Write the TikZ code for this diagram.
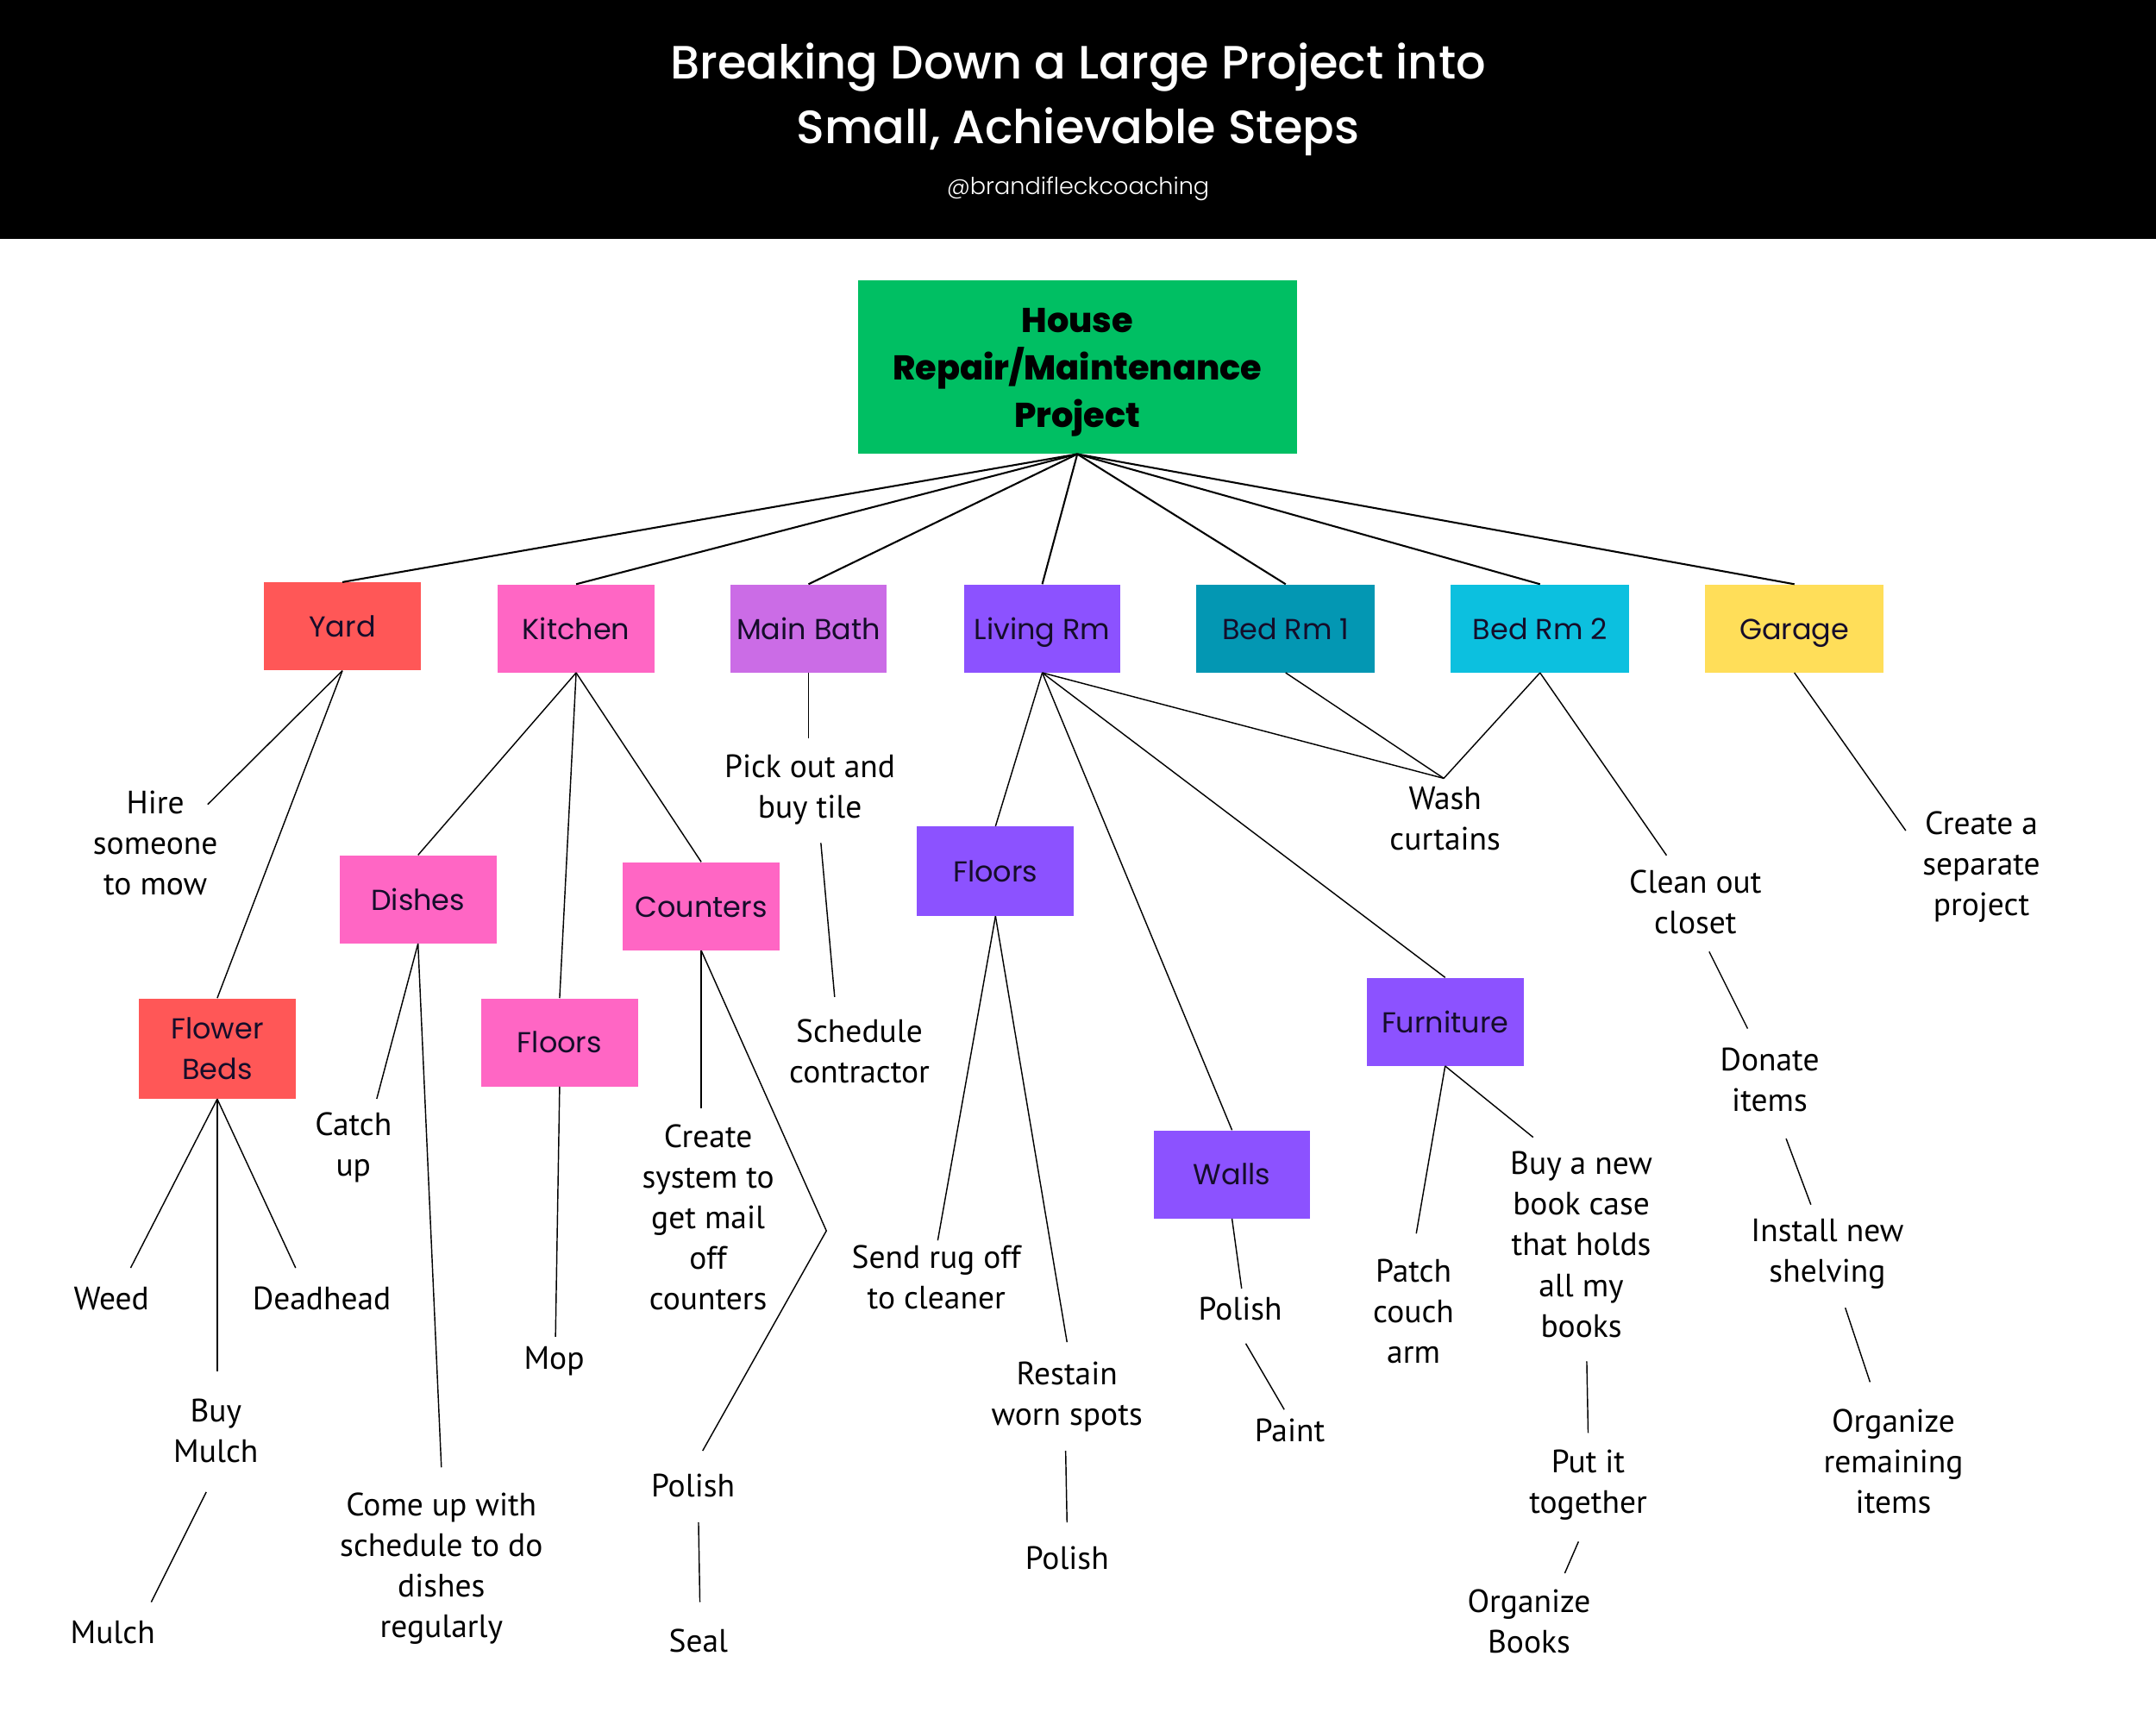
\documentclass[tikz,border=0pt]{standalone}
\usepackage{fontspec}
\setmainfont{PT Sans}
\newfontfamily\pop{Poppins}
\newfontfamily\popm{Poppins Medium}
\newfontfamily\popl{Poppins Light}
\newfontfamily\popxb{Poppins ExtraBold}
\definecolor{cgreen}{HTML}{00BF63}
\definecolor{cred}{HTML}{FF5757}
\definecolor{cpink}{HTML}{FF66C4}
\definecolor{corchid}{HTML}{CB6CE6}
\definecolor{cviolet}{HTML}{8C52FF}
\definecolor{cteal}{HTML}{0397B3}
\definecolor{ccyan}{HTML}{0CC0DF}
\definecolor{cyellow}{HTML}{FFDE59}
\definecolor{boxtxt}{HTML}{150D2A}
\tikzset{
  boxbase/.style={rectangle, inner sep=0pt, minimum width=114pt, minimum height=64pt,
    font=\pop\fontsize{21}{29}\selectfont, text=boxtxt, align=center},
  box/.style={boxbase, text height=16pt, text depth=0.5pt},
  lbl/.style={inner sep=0pt, align=center, font=\fontsize{23.5}{29.5}\selectfont},
  link/.style={line width=0.9pt},
  toplink/.style={line width=1.3pt},
}
\begin{document}
\begin{tikzpicture}[x=1pt, y=-1pt]
\useasboundingbox (0,0) rectangle (1568,1254);
\fill[white] (0,0) rectangle (1568,1254);
\fill[black] (0,0) rectangle (1568,174);
\node[text=white, align=center, inner sep=0pt, font=\popm\fontsize{34}{47}\selectfont] (title) at (784,72) {Breaking Down a Large Project into\\Small, Achievable Steps};
\node[text=white, inner sep=0pt, font=\popl\fontsize{17}{20}\selectfont] (handle) at (784,137.5) {@brandifleckcoaching};

% main box
\node[boxbase, fill=cgreen, minimum width=319pt, minimum height=126pt] (main) at (783.5,267) {};
\node[text=black, align=center, inner sep=0pt, font=\popxb\fontsize{25}{34.5}\selectfont] (maintext) at (783.5,271) {House\\Repair/Maintenance\\Project};

% level 1
\node[box, fill=cred] (yard) at (249,455.5) {Yard};
\node[box, fill=cpink] (kitchen) at (419,457) {Kitchen};
\node[box, fill=corchid] (bath) at (588,457) {Main Bath};
\node[box, fill=cviolet] (living) at (758,457) {Living Rm};
\node[box, fill=cteal, minimum width=130pt] (bed1) at (935,457) {Bed Rm 1};
\node[box, fill=ccyan, minimum width=130pt] (bed2) at (1120,457) {Bed Rm 2};
\node[box, fill=cyellow, minimum width=130pt] (garage) at (1305,457) {Garage};

% level 2 boxes
\node[boxbase, fill=cred, minimum height=73pt] (flower) at (158,762.5) {Flower\\Beds};
\node[box, fill=cpink] (dishes) at (304,654) {Dishes};
\node[box, fill=cpink] (kfloors) at (407,758) {Floors};
\node[box, fill=cpink] (counters) at (510,659) {Counters};
\node[box, fill=cviolet, minimum height=65pt] (lfloors) at (724,633.5) {Floors};
\node[box, fill=cviolet] (walls) at (896,854) {Walls};
\node[box, fill=cviolet] (furniture) at (1051,743) {Furniture};

% labels
\node[lbl] (hire) at (113,613) {Hire\\someone\\to mow};
\node[lbl] (weed) at (81,944) {Weed};
\node[lbl] (deadhead) at (234,944) {Deadhead};
\node[lbl] (buymulch) at (157,1040.5) {Buy\\Mulch};
\node[lbl] (mulch) at (82,1187) {Mulch};
\node[lbl] (catchup) at (257,834.5) {Catch\\up};
\node[lbl] (comeup) at (321,1140.5) {Come up with\\schedule to do\\dishes\\regularly};
\node[lbl] (mop) at (403,990) {Mop};
\node[lbl] (createsys) at (515,885) {Create\\system to\\get mail\\off\\counters};
\node[lbl] (polishA) at (504,1080) {Polish};
\node[lbl] (seal) at (508,1193) {Seal};
\node[lbl] (pickout) at (589,574) {Pick out and\\buy tile};
\node[lbl] (schedule) at (625,764.5) {Schedule\\contractor};
\node[lbl] (sendrug) at (681,929) {Send rug off\\to cleaner};
\node[lbl] (restain) at (776,1016) {Restain\\worn spots};
\node[lbl] (polishB) at (776,1133) {Polish};
\node[lbl] (wash) at (1051,595) {Wash\\curtains};
\node[lbl] (polishC) at (902,952) {Polish};
\node[lbl] (paint) at (938,1040) {Paint};
\node[lbl] (patch) at (1028,953.5) {Patch\\couch\\arm};
\node[lbl] (buynew) at (1150,905) {Buy a new\\book case\\that holds\\all my\\books};
\node[lbl] (putit) at (1155,1080) {Put it\\together};
\node[lbl] (orgbooks) at (1112,1179) {Organize\\Books};
\node[lbl] (cleanout) at (1233,656) {Clean out\\closet};
\node[lbl] (donate) at (1287,785.5) {Donate\\items};
\node[lbl] (install) at (1329,912) {Install new\\shelving};
\node[lbl] (orgrem) at (1377,1062.5) {Organize\\remaining\\items};
\node[lbl] (createsep) at (1441,630.5) {Create a\\separate\\project};

% free ends of connectors near labels
\coordinate (hire-e) at (151,585);
\coordinate (weed-e) at (95,922);
\coordinate (buymulch-e) at (158,997);
\coordinate (deadhead-e) at (215,922);
\coordinate (buymulch-s) at (150,1085);
\coordinate (mulch-e) at (110,1165);
\coordinate (catchup-e) at (274,799);
\coordinate (comeup-e) at (321,1067);
\coordinate (mop-e) at (404,972);
\coordinate (createsys-e) at (510,806);
\coordinate (bend) at (601,895);
\coordinate (polishA-e) at (511,1055);
\coordinate (polishA-s) at (508,1107);
\coordinate (seal-e) at (509,1165);
\coordinate (pickout-e) at (588,537);
\coordinate (pickout-s) at (597,613);
\coordinate (schedule-e) at (607,725);
\coordinate (wash-e) at (1050,566);
\coordinate (sendrug-e) at (682,902);
\coordinate (restain-e) at (776,976);
\coordinate (restain-s) at (775,1055);
\coordinate (polishB-e) at (776,1107);
\coordinate (polishC-e) at (903,937);
\coordinate (polishC-s) at (906,977);
\coordinate (paint-e) at (934,1025);
\coordinate (patch-e) at (1030,897);
\coordinate (buynew-e) at (1115,827);
\coordinate (buynew-s) at (1154,990);
\coordinate (putit-e) at (1155,1042);
\coordinate (putit-s) at (1148,1121);
\coordinate (orgbooks-e) at (1138,1144);
\coordinate (cleanout-e) at (1212,622);
\coordinate (cleanout-s) at (1243,692);
\coordinate (donate-e) at (1271,748);
\coordinate (donate-s) at (1299,828);
\coordinate (install-e) at (1317,876);
\coordinate (install-s) at (1342,951);
\coordinate (orgrem-e) at (1360,1005);
\coordinate (createsep-e) at (1386,604);

% top connectors
\foreach \n in {yard,kitchen,bath,living,bed1,bed2,garage}
  \draw[toplink] (main.south) -- (\n.north);

% yard
\draw[link] (yard.south) -- (hire-e);
\draw[link] (yard.south) -- (flower.north);
\draw[link] (flower.south) -- (weed-e);
\draw[link] (flower.south) -- (buymulch-e);
\draw[link] (flower.south) -- (deadhead-e);
\draw[link] (buymulch-s) -- (mulch-e);

% kitchen
\draw[link] (kitchen.south) -- (dishes.north);
\draw[link] (kitchen.south) -- (kfloors.north);
\draw[link] (kitchen.south) -- (counters.north);
\draw[link] (dishes.south) -- (catchup-e);
\draw[link] (dishes.south) -- (comeup-e);
\draw[link] (kfloors.south) -- (mop-e);
\draw[link] (counters.south) -- (createsys-e);
\draw[link] (counters.south) -- (bend) -- (polishA-e);
\draw[link] (polishA-s) -- (seal-e);

% main bath
\draw[link] (bath.south) -- (pickout-e);
\draw[link] (pickout-s) -- (schedule-e);

% living room
\draw[link] (living.south) -- (lfloors.north);
\draw[link] (living.south) -- (walls.north);
\draw[link] (living.south) -- (furniture.north);
\draw[link] (living.south) -- (wash-e);
\draw[link] (lfloors.south) -- (sendrug-e);
\draw[link] (lfloors.south) -- (restain-e);
\draw[link] (restain-s) -- (polishB-e);
\draw[link] (walls.south) -- (polishC-e);
\draw[link] (polishC-s) -- (paint-e);
\draw[link] (furniture.south) -- (patch-e);
\draw[link] (furniture.south) -- (buynew-e);
\draw[link] (buynew-s) -- (putit-e);
\draw[link] (putit-s) -- (orgbooks-e);

% bedrooms
\draw[link] (bed1.south) -- (wash-e);
\draw[link] (bed2.south) -- (wash-e);
\draw[link] (bed2.south) -- (cleanout-e);
\draw[link] (cleanout-s) -- (donate-e);
\draw[link] (donate-s) -- (install-e);
\draw[link] (install-s) -- (orgrem-e);

% garage
\draw[link] (garage.south) -- (createsep-e);
\end{tikzpicture}
\end{document}
